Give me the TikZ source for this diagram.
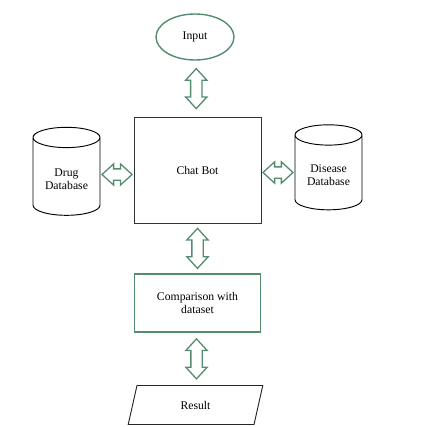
\documentclass[tikz,border=0pt]{standalone}
\usepackage{fontspec}
\setmainfont{Liberation Serif}
\usetikzlibrary{shapes.geometric,shapes.arrows,calc}
\definecolor{verde}{RGB}{84,140,112}

\begin{document}
\begin{tikzpicture}[
  x=0.03cm, y=-0.03cm,
  font=\fontsize{10}{11.5}\selectfont,
  riquadro/.style={draw=black!80, line width=0.75pt, align=center},
  contorno/.style={draw=verde, line width=1.2pt, align=center},
  cilindro/.style={cylinder, shape border rotate=90, aspect=0.4,
                   draw=black, line width=0.8pt, align=center,
                   minimum width=2.01cm},
  freccia/.style={double arrow, draw=verde, line width=1.1pt, fill=white,
                  inner sep=0.15cm, double arrow head extend=0.15cm,
                  double arrow tip angle=85}
]
\useasboundingbox (0,0) rectangle (429,426);

%--------------------------------------------------------------
% Blocchi principali
%--------------------------------------------------------------
\node[ellipse, contorno, minimum width=2.34cm, minimum height=1.38cm]
  (ingresso) at (195,37) {Input};
\node[riquadro, minimum width=3.81cm, minimum height=3.18cm]
  (bot) at (197.5,170) {Chat Bot};
\node[rectangle, contorno, minimum width=3.78cm, minimum height=1.74cm]
  (confronto) at (197.5,303) {Comparison with\\ dataset};
\node[trapezium, trapezium left angle=80, trapezium right angle=100,
      trapezium stretches=true, draw=black!85, line width=0.8pt,
      minimum width=4.05cm, minimum height=1.17cm]
  (risultato) at (195.5,405) {Result};

%--------------------------------------------------------------
% Basi di dati ai lati
%--------------------------------------------------------------
\node[cilindro, minimum height=2.64cm] (farmaci) at (66.5,179)
  {Drug\\ Database};
\node[cilindro, minimum height=2.55cm] (malattie) at (328.5,175)
  {Disease\\ Database};

%--------------------------------------------------------------
% Frecce doppie fra i blocchi
%--------------------------------------------------------------
\node[freccia, rotate=90, minimum height=1.2cm]
  (f1) at ($(ingresso.south)!0.5!(bot.north)$) {};
\node[freccia, rotate=90, minimum height=1.2cm]
  (f2) at ($(bot.south)!0.5!(confronto.north)$) {};
\node[freccia, rotate=90, minimum height=1.2cm]
  (f3) at ($(confronto.south)!0.5!(risultato.north)$) {};
\node[freccia, minimum height=0.9cm]
  (f4) at ($(farmaci.east)!0.5!(bot.west)$) {};
\node[freccia, minimum height=0.9cm]
  (f5) at ($(bot.east)!0.5!(malattie.west)$) {};

\end{tikzpicture}
\end{document}
